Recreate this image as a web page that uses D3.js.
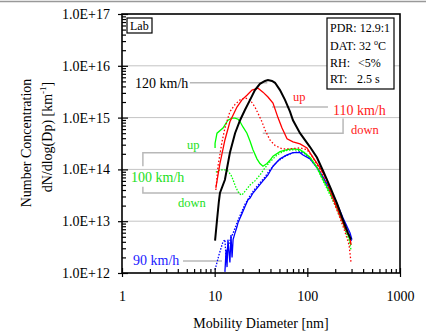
<!DOCTYPE html>
<html>
<head>
<meta charset="utf-8">
<script src="https://cdn.jsdelivr.net/npm/d3@7"></script>
<style>
  body { margin: 0; background: #fff; }
  svg { display: block; font-family: "Liberation Serif", "Times New Roman", serif; }
</style>
</head>
<body>
<div id="chart"></div>
<script>
// mobility diameter [nm] and number concentration [km^-1]
var kmh120 = [[10.1,4.2e12],[10.6,1.05e13],[11.1,2.4e13],[11.4,3.5e13],[12.9,6.3e13],[14.6,2.1e14],[16.6,5.0e14],[18.8,8.9e14],[21.2,1.4e15],[24.1,2.2e15],[27.2,3.4e15],[30.8,4.5e15],[34.9,5.1e15],[37.6,5.3e15],[41.6,5.1e15],[44.8,4.7e15],[50.7,3.4e15],[57.4,2.2e15],[65.0,1.3e15],[70.0,8.9e14],[83.4,5.0e14],[107,2.7e14],[127,1.7e14],[148,9.3e13],[176,4.6e13],[209,2.2e13],[243,1.05e13],[275,5.9e12],[296,4.4e12]];

var kmh110up = [[10.3,4.4e13],[11.4,1.3e14],[12.9,3.7e14],[14.6,8.3e14],[17.4,1.6e15],[19.7,2.2e15],[22.3,2.7e15],[25.3,3.4e15],[29.4,3.7e15],[33.2,3.1e15],[37.6,2.5e15],[42.6,1.9e15],[48.2,1.0e15],[53.3,6.3e14],[60.4,3.9e14],[70.0,3.4e14],[83.4,3.1e14],[99.1,2.6e14],[115,1.7e14],[137,1.07e14],[163,6.3e13],[189,2.8e13],[225,1.3e13],[255,7.4e12],[289,4.8e12],[296,3.5e12]];

var kmh110down = [[10.3,4.0e13],[10.9,1.2e14],[12.0,3.4e14],[12.9,6.3e14],[14.6,1.3e15],[16.6,1.8e15],[18.8,2.2e15],[21.2,2.4e15],[24.1,2.2e15],[27.2,1.6e15],[29.4,1.2e15],[32.4,8.3e14],[34.9,5.8e14],[39.5,3.7e14],[44.8,2.9e14],[53.3,2.5e14],[65.0,2.5e14],[83.4,2.6e14],[99.1,2.4e14],[115,1.7e14],[137,9.8e13],[163,5.3e13],[189,2.6e13],[225,1.15e13],[255,6.2e12],[282,3.5e12],[296,1.6e12]];

var kmh100up = [[10.1,2.6e14],[10.1,3.2e14],[10.6,5.0e14],[12.3,6.3e14],[13.9,8.9e14],[15.4,9.8e14],[16.6,9.8e14],[17.9,9.3e14],[18.8,8.3e14],[20.2,6.6e14],[22.3,5.0e14],[24.1,3.5e14],[25.9,2.4e14],[28.6,1.6e14],[30.8,1.3e14],[33.2,1.15e14],[36.7,1.3e14],[39.5,1.5e14],[42.6,1.8e14],[50.7,2.2e14],[60.4,2.4e14],[70.0,2.5e14],[83.4,2.4e14],[89.8,2.2e14],[107,1.7e14],[127,1.1e14],[148,6.3e13],[176,3.5e13],[209,1.9e13],[243,9.3e12],[282,4.9e12],[296,3.5e12]];

var kmh100down = [[10.3,8.8e13],[11.4,9.8e13],[12.9,9.8e13],[13.9,9.3e13],[15.0,7.8e13],[15.8,6.3e13],[17.0,4.4e13],[18.4,3.4e13],[19.7,3.2e13],[21.8,4.0e13],[24.1,5.0e13],[27.2,6.0e13],[30.8,7.8e13],[34.9,1.07e14],[39.5,1.4e14],[47.1,1.9e14],[57.4,2.3e14],[70.0,2.4e14],[83.4,2.3e14],[94.4,2.1e14],[107,1.7e14],[127,1.07e14],[148,6.0e13],[176,3.2e13],[209,1.7e13],[243,8.5e12],[282,4.4e12],[296,2.8e12]];

var kmh90up = [[12.9,1.05e12],[13.3,2.8e12],[13.6,1.3e12],[13.9,4.4e12],[14.6,1.6e12],[15.0,5.4e12],[15.4,2.0e12],[15.8,4.4e12],[16.6,6.0e12],[17.4,7.8e12],[17.9,9.5e12],[18.8,1.15e13],[19.7,1.4e13],[21.2,1.9e13],[22.9,2.6e13],[24.1,2.8e13],[25.9,3.5e13],[29.4,4.6e13],[33.2,6.0e13],[37.6,7.8e13],[42.6,1.15e14],[50.7,1.6e14],[60.4,1.9e14],[70.0,2.1e14],[83.4,2.1e14],[89.8,1.9e14],[107,1.6e14],[127,1.1e14],[148,7.1e13],[176,4.0e13],[209,2.2e13],[243,1.15e13],[289,5.9e12],[303,4.4e12]];

var kmh90down = [[10.1,1.15e12],[10.6,1.6e12],[11.1,2.2e12],[11.7,3.0e12],[12.3,4.0e12],[12.9,4.4e12],[13.3,1.9e12],[13.6,2.8e12],[14.2,3.6e12],[15.0,4.8e12],[15.8,5.9e12],[16.6,7.4e12],[17.9,1.05e13],[19.2,1.4e13],[21.2,2.1e13],[24.1,3.1e13],[27.2,4.2e13],[30.8,5.5e13],[34.9,7.1e13],[39.5,9.8e13],[47.1,1.4e14],[57.4,1.8e14],[70.0,2.1e14],[83.4,2.2e14],[94.4,2.0e14],[107,1.6e14],[127,1.07e14],[148,6.8e13],[176,3.8e13],[209,2.0e13],[243,1.05e13],[282,5.4e12],[303,3.9e12]];

var xTicks = [1, 10, 100, 1000];
var yTicks = [1e12, 1e13, 1e14, 1e15, 1e16, 1e17];
var infoLines = [["PDR: 12.9:1", ""], ["DAT: 32 ", "o", "C"], ["RH:", "<5%"], ["RT:", "2.5 s"]];

var width = 426, height = 331;
var pLeft = 122, pRight = 400, pTop = 14, pBottom = 273;

var svg = d3.select("#chart").append("svg")
	.attr("width", width)
	.attr("height", height)

// thin frame line on top of the picture
svg.append("line")
	.attr("x1", 0).attr("x2", width)
	.attr("y1", 1.5).attr("y2", 1.5)
	.attr("stroke", "#999")
	.attr("stroke-width", 1.5)

var x = d3.scaleLog().domain([1, 1000]).range([pLeft, pRight]);
var y = d3.scaleLog().domain([1e12, 1e17]).range([pBottom, pTop]);

function fmt(d) { return "1.0E+" + Math.round(Math.log10(d)); }

var minorX = [], minorY = [];
for (var e = 0; e < 3; e++) for (var m = 2; m < 10; m++) minorX.push(m * Math.pow(10, e));
for (var e = 12; e < 17; e++) for (var m = 2; m < 10; m++) minorY.push(m * Math.pow(10, e));

// grid lines
svg.selectAll("line.grid")
	.data(yTicks.slice(1, 5))
	.enter()
		.append("line")
		.attr("class", "grid")
		.attr("x1", pLeft).attr("x2", pRight)
		.attr("y1", function(d) { return y(d); })
		.attr("y2", function(d) { return y(d); })
		.attr("stroke", "#c4c4c4")
		.attr("stroke-width", 1)

// annotation leader lines (in data units)
var grey = "#b8b8b8";
var leaders = [
	[[5.4, 4.7e15], [37, 4.7e15]],
	[[41.6, 1.6e15], [167, 1.6e15]],
	[[33, 5.0e14], [243, 5.0e14], [243, 9.6e14]],
	[[1.68, 1.15e14], [1.68, 2.1e14], [25.9, 2.1e14]],
	[[1.68, 4.6e13], [1.68, 3.5e13], [18.8, 3.5e13]],
	[[4.55, 1.7e12], [12, 1.7e12]]
];
var lineAnn = d3.line().x(function(d) { return x(d[0]); }).y(function(d) { return y(d[1]); });
svg.selectAll("path.leader")
	.data(leaders)
	.enter()
		.append("path")
		.attr("class", "leader")
		.attr("d", lineAnn)
		.attr("fill", "none")
		.attr("stroke", grey)
		.attr("stroke-width", 1.5)

// curves
svg.append("clipPath").attr("id", "clip")
	.append("rect").attr("x", pLeft).attr("y", pTop).attr("width", pRight - pLeft).attr("height", pBottom - pTop)

var series = [
	{ data: kmh90down, color: "#0000ff", dash: "1.5,1.5", w: 1.3 },
	{ data: kmh90up, color: "#0000ff", dash: null, w: 1.3 },
	{ data: kmh100down, color: "#00ff00", dash: "1.5,1.5", w: 1.3 },
	{ data: kmh100up, color: "#00ff00", dash: null, w: 1.3 },
	{ data: kmh110down, color: "#ff0000", dash: "1.5,2", w: 1.3 },
	{ data: kmh110up, color: "#ff0000", dash: null, w: 1.3 },
	{ data: kmh120, color: "#000000", dash: null, w: 2 }
];
var line = d3.line()
	.x(function(d) { return x(d[0]); })
	.y(function(d) { return y(d[1]); })

svg.append("g").attr("clip-path", "url(#clip)")
	.selectAll("path")
	.data(series)
	.enter()
		.append("path")
		.attr("d", function(d) { return line(d.data); })
		.attr("fill", "none")
		.attr("stroke", function(d) { return d.color; })
		.attr("stroke-width", function(d) { return d.w; })
		.attr("stroke-dasharray", function(d) { return d.dash; })

// axes: majors cross, minors point inward
svg.append("g").attr("transform", "translate(0," + pBottom + ")")
	.call(d3.axisBottom(x).tickValues(xTicks).tickSize(4).tickFormat(function(d) { return d; }).tickPadding(14))
svg.append("g").attr("transform", "translate(0," + pBottom + ")")
	.call(d3.axisBottom(x).tickValues(minorX).tickSize(-4).tickFormat(""))
svg.append("g").attr("transform", "translate(0," + pBottom + ")")
	.call(d3.axisBottom(x).tickValues(xTicks).tickSize(-5).tickFormat(""))
svg.append("g").attr("transform", "translate(" + pLeft + ",0)")
	.call(d3.axisLeft(y).tickValues(yTicks).tickSize(4).tickFormat(fmt).tickPadding(8))
svg.append("g").attr("transform", "translate(" + pLeft + ",0)")
	.call(d3.axisLeft(y).tickValues(minorY).tickSize(-4).tickFormat(""))
svg.append("g").attr("transform", "translate(" + pLeft + ",0)")
	.call(d3.axisLeft(y).tickValues(yTicks).tickSize(-6).tickFormat(""))

svg.selectAll(".domain").remove()
svg.selectAll(".tick line").attr("stroke", "#000").attr("stroke-width", 1.2)
svg.selectAll(".tick text")
	.attr("font-family", "Liberation Serif, serif")
	.attr("font-size", 14)
	.attr("fill", "#000")

svg.append("rect")
	.attr("x", pLeft).attr("y", pTop)
	.attr("width", pRight - pLeft).attr("height", pBottom - pTop)
	.attr("fill", "none")
	.attr("stroke", "#000")
	.attr("stroke-width", 1.6)

// axis titles
svg.append("text")
	.attr("x", 261).attr("y", 328)
	.attr("text-anchor", "middle")
	.attr("font-size", 14)
	.text("Mobility Diameter [nm]")

svg.append("text")
	.attr("transform", "translate(31,143) rotate(-90)")
	.attr("text-anchor", "middle")
	.attr("font-size", 14)
	.text("Number Concentration")

var t2 = svg.append("text")
	.attr("transform", "translate(52,137) rotate(-90)")
	.attr("text-anchor", "middle")
	.attr("font-size", 14)
t2.append("tspan").text("dN/dlog(Dp) [km")
t2.append("tspan").attr("font-size", 9).attr("dy", -6).text("-1")
t2.append("tspan").attr("dy", 6).text("]")

// Lab box
svg.append("rect")
	.attr("x", 127).attr("y", 18).attr("width", 25).attr("height", 15)
	.attr("fill", "#fff").attr("stroke", "#000").attr("stroke-width", 1.2)
svg.append("text").attr("x", 130).attr("y", 30).attr("font-size", 12).text("Lab")

// condition box
svg.append("rect")
	.attr("x", 327).attr("y", 18).attr("width", 67).attr("height", 71)
	.attr("fill", "#fff").attr("stroke", "#000").attr("stroke-width", 1.2)
var info = svg.append("g").attr("font-size", 12)
info.append("text").attr("x", 330).attr("y", 32).text(infoLines[0][0])
var dat = info.append("text").attr("x", 330).attr("y", 50)
dat.append("tspan").text(infoLines[1][0])
dat.append("tspan").attr("font-size", 8).attr("dy", -5).text(infoLines[1][1])
dat.append("tspan").attr("dy", 5).text(infoLines[1][2])
info.append("text").attr("x", 330).attr("y", 67).text(infoLines[2][0])
info.append("text").attr("x", 358).attr("y", 67).text(infoLines[2][1])
info.append("text").attr("x", 330).attr("y", 83).text(infoLines[3][0])
info.append("text").attr("x", 357).attr("y", 83).text(infoLines[3][1])

// series labels
var labels = [
	{ t: "120 km/h", x: 135, y: 88, c: "#000", s: 14 },
	{ t: "up", x: 293, y: 101, c: "#ff2020", s: 12.5 },
	{ t: "110 km/h", x: 333, y: 115, c: "#ff2020", s: 14 },
	{ t: "down", x: 351, y: 134, c: "#ff2020", s: 12.5 },
	{ t: "up", x: 187, y: 149, c: "#22e022", s: 12.5 },
	{ t: "100 km/h", x: 131, y: 182, c: "#22e022", s: 14 },
	{ t: "down", x: 178, y: 207, c: "#22e022", s: 12.5 },
	{ t: "90 km/h", x: 133, y: 265, c: "#2020ff", s: 14 }
];
svg.selectAll("text.lbl")
	.data(labels)
	.enter()
		.append("text")
		.attr("class", "lbl")
		.attr("x", function(d) { return d.x; })
		.attr("y", function(d) { return d.y; })
		.attr("fill", function(d) { return d.c; })
		.attr("font-size", function(d) { return d.s; })
		.text(function(d) { return d.t; })
</script>
</body>
</html>
